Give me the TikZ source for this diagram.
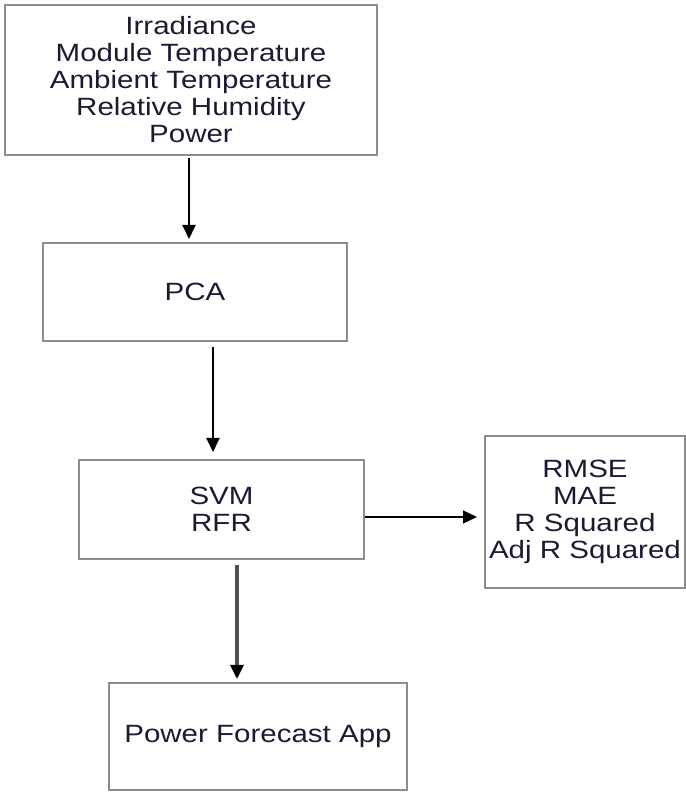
\documentclass[tikz,border=0pt]{standalone}
\usepackage{fontspec}
\setmainfont{Liberation Sans}[FakeStretch=1.18]
\usetikzlibrary{arrows.meta, positioning}
\definecolor{bgray}{RGB}{140,140,140}
\definecolor{tnavy}{RGB}{30,25,50}
\definecolor{agray}{RGB}{80,80,80}

\tikzset{
  blk/.style={draw=bgray, line width=1pt, inner sep=0pt, align=center,
              text=tnavy, font=\fontsize{12.5}{13.5}\selectfont},
  arr/.style={-{Triangle[length=7pt,width=6.5pt,color=black]}, line width=1pt, black},
}

\begin{document}
\begin{tikzpicture}[x=1pt,y=1pt]
  \useasboundingbox (0,0) rectangle (343,397);

  % boxes
  \node[blk, minimum width=186pt, minimum height=75pt] (inputs) at (95.5,357)
    {Irradiance\\Module Temperature\\Ambient Temperature\\Relative Humidity\\Power};
  \node[blk, minimum width=152pt, minimum height=49pt] (pca) at (97.5,251) {PCA};
  \node[blk, minimum width=142.5pt, minimum height=49.5pt] (svm) at (110.75,142.25)
    {SVM\\RFR};
  \node[blk, minimum width=100pt, minimum height=76pt] (metrics) at (292.5,141)
    {RMSE\\MAE\\R Squared\\Adj R Squared};
  \node[blk, minimum width=149pt, minimum height=53.5pt] (app) at (129,28.75)
    {Power Forecast App};

  % connectors
  \draw[arr, shorten <=1pt, shorten >=1.5pt]
    ([xshift=-1pt]inputs.south) -- ([xshift=-3pt]pca.north);
  \draw[arr, shorten <=2.5pt, shorten >=3.5pt]
    ([xshift=9pt]pca.south) -- ([xshift=-4.25pt]svm.north);
  \draw[arr, line width=0.7pt, shorten >=3.5pt]
    ([yshift=-3.75pt]svm.east) -- ([yshift=-2.5pt]metrics.west);
  \draw[arr, draw=agray, line width=1.6pt, shorten <=2.5pt, shorten >=1.5pt]
    ([xshift=7.75pt]svm.south) -- ([xshift=-10.5pt]app.north);
\end{tikzpicture}
\end{document}
